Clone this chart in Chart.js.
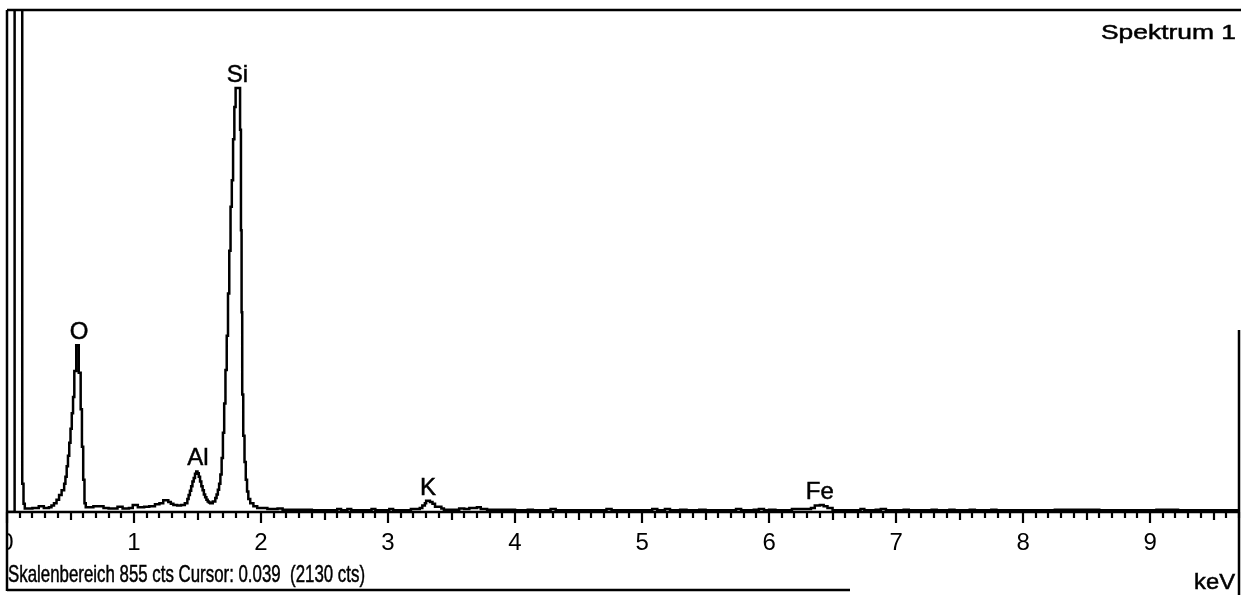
<!DOCTYPE html>
<html>
<head>
<meta charset="utf-8">
<title>Spektrum 1</title>
<script src="https://cdn.jsdelivr.net/npm/chart.js@4/dist/chart.umd.min.js"></script>
<style>
  html, body { margin: 0; padding: 0; background: #ffffff; }
  #wrap { width: 1241px; height: 595px; position: relative; }
  canvas { display: block; }
</style>
</head>
<body>
<div id="wrap"><canvas id="c" width="1241" height="595"></canvas></div>
<script>
// ---- Data (histogram bins: left edge in keV, counts) ----
const energyKeV = [
  0.00, 0.06, 0.12, 0.13, 0.14, 0.20, 0.25, 0.29, 0.33, 0.35,
  0.37, 0.39, 0.41, 0.43, 0.45, 0.46, 0.47, 0.48, 0.49, 0.50,
  0.51, 0.52, 0.53, 0.545, 0.565, 0.58, 0.59, 0.60, 0.61, 0.62,
  0.68, 0.76, 0.80, 0.87, 0.91, 0.96, 0.99, 1.03, 1.08, 1.12,
  1.165, 1.20, 1.23, 1.27, 1.29, 1.31, 1.34, 1.37, 1.40, 1.42,
  1.43, 1.44, 1.45, 1.46, 1.47, 1.48, 1.49, 1.50, 1.51, 1.52,
  1.53, 1.54, 1.55, 1.56, 1.57, 1.58, 1.59, 1.60, 1.62, 1.64,
  1.65, 1.66, 1.67, 1.68, 1.69, 1.70, 1.71, 1.72, 1.73, 1.74,
  1.75, 1.76, 1.77, 1.78, 1.79, 1.80, 1.835, 1.842, 1.847, 1.852,
  1.86, 1.87, 1.88, 1.89, 1.90, 1.915, 1.94, 1.97, 2.05, 2.13,
  2.17, 2.30, 2.40, 2.60, 2.63, 2.68, 2.71, 2.87, 2.90, 3.01,
  3.04, 3.18, 3.25, 3.27, 3.29, 3.30, 3.33, 3.35, 3.37, 3.42,
  3.44, 3.50, 3.56, 3.60, 3.64, 3.70, 3.73, 3.78, 3.90, 4.00,
  4.10, 4.14, 4.28, 4.32, 4.42, 4.55, 4.72, 4.76, 4.80, 4.95,
  5.08, 5.12, 5.18, 5.22, 5.30, 5.35, 5.45, 5.50, 5.74, 5.78,
  5.88, 5.92, 5.96, 6.00, 6.05, 6.18, 6.33, 6.36, 6.40, 6.43,
  6.46, 6.50, 6.72, 6.75, 6.84, 6.88, 6.92, 7.06, 7.10, 7.28,
  7.32, 7.42, 7.46, 7.58, 7.62, 7.75, 7.79, 8.00, 8.25, 8.60,
  9.05, 9.22, 9.70
];
const counts = [
  0, 2130, 48, 14, 6, 7, 10, 7, 8, 11,
  15, 21, 29, 37, 48, 60, 78, 96, 118, 142,
  168, 196, 240, 284, 237, 175, 111, 55, 15, 8,
  10, 7, 6, 9, 6, 7, 12, 8, 9, 10,
  13, 15, 20, 17, 14, 12, 11, 12, 15, 22,
  29, 36, 44, 52, 58, 65, 69, 66, 60, 52,
  44, 37, 30, 25, 21, 18, 16, 15, 18, 24,
  30, 38, 48, 64, 92, 135, 185, 242, 300, 372,
  445, 520, 565, 635, 690, 722, 651, 480, 340, 200,
  130, 85, 55, 35, 22, 15, 10, 7, 5, 6,
  4, 4, 3, 5, 3, 5, 3, 5, 3, 5,
  3, 5, 7, 11, 15, 19, 17, 14, 9, 6,
  4, 4, 6, 5, 7, 8, 5, 4, 4, 3,
  4, 3, 5, 3, 3, 3, 5, 3, 3, 3,
  5, 3, 5, 3, 4, 3, 4, 3, 5, 3,
  4, 5, 3, 4, 3, 5, 7, 11, 12, 10,
  7, 3, 5, 3, 4, 5, 3, 4, 3, 4,
  3, 4, 3, 4, 3, 4, 3, 3, 4, 3,
  4, 3, 3
];

// Element line labels and their energies (keV)
const peakNames = ['O', 'Al', 'Si', 'K', 'Fe'];
const peakKeV = [0.567, 1.504, 1.815, 3.315, 6.40];

// Axis
const xTickLabels = ['0', '1', '2', '3', '4', '5', '6', '7', '8', '9'];
const xMaxKeV = 9.7;
const fullScaleCts = 855;

// Texts
const titleText = 'Spektrum 1';
const statusText = 'Skalenbereich 855 cts Cursor: 0.039  (2130 cts)';
const unitText = 'keV';

const FONT = '"Liberation Sans", Arial, "DejaVu Sans", sans-serif';
const INK = '#000000';

function fitText(ctx, text, x, baseline, width, size) {
  ctx.save();
  ctx.font = size + 'px ' + FONT;
  ctx.textAlign = 'left';
  ctx.textBaseline = 'alphabetic';
  ctx.fillStyle = INK;
  ctx.strokeStyle = INK;
  ctx.lineWidth = 0.5;
  const w = ctx.measureText(text).width;
  ctx.translate(x, baseline);
  ctx.scale(width / w, 1);
  ctx.fillText(text, 0, 0);
  ctx.strokeText(text, 0, 0);
  ctx.restore();
}

const decorPlugin = {
  id: 'decor',
  beforeDraw(chart) {
    const ctx = chart.ctx;
    ctx.save();
    ctx.fillStyle = '#ffffff';
    ctx.fillRect(0, 0, chart.width, chart.height);
    ctx.restore();
  },
  afterDraw(chart) {
    const ctx = chart.ctx;
    const xs = chart.scales.x;
    const ys = chart.scales.y;
    const y0 = ys.getPixelForValue(0);
    ctx.save();
    ctx.strokeStyle = INK;
    ctx.lineWidth = 2.5;
    ctx.lineCap = 'butt';

    // x axis line
    ctx.beginPath();
    ctx.moveTo(xs.left, y0);
    ctx.lineTo(xs.right, y0);
    ctx.stroke();

    // tick marks (hanging below the axis)
    ctx.lineWidth = 2.2;
    xs.ticks.forEach(t => {
      const r = Math.round(t.value * 10);
      const len = r % 10 === 0 ? 11 : (r % 5 === 0 ? 8 : 6);
      const px = Math.round(xs.getPixelForValue(t.value));
      ctx.beginPath();
      ctx.moveTo(px, y0);
      ctx.lineTo(px, y0 + len);
      ctx.stroke();
    });

    // the '0' label is partly hidden behind the left frame in the original
    ctx.fillStyle = '#ffffff';
    ctx.fillRect(0, y0 + 13, xs.left, 40);

    // frame
    ctx.lineWidth = 2.5;
    const top = chart.chartArea.top;
    ctx.beginPath();
    ctx.moveTo(xs.left, top);
    ctx.lineTo(chart.width, top);
    ctx.moveTo(xs.left, top);
    ctx.lineTo(xs.left, 591);
    ctx.moveTo(xs.left, 590);
    ctx.lineTo(850, 590);
    ctx.moveTo(xs.right, 330);
    ctx.lineTo(xs.right, chart.height);
    ctx.stroke();

    // element labels above the peaks
    ctx.font = '24px ' + FONT;
    ctx.fillStyle = INK;
    ctx.strokeStyle = INK;
    ctx.lineWidth = 0.5;
    ctx.textAlign = 'center';
    ctx.textBaseline = 'alphabetic';
    peakNames.forEach((name, i) => {
      const k = peakKeV[i];
      let peak = 0;
      energyKeV.forEach((e, j) => {
        if (Math.abs(e - k) <= 0.06 && counts[j] <= fullScaleCts) peak = Math.max(peak, counts[j]);
      });
      const px = xs.getPixelForValue(k);
      const py = ys.getPixelForValue(peak) - 6;
      ctx.fillText(name, px, py);
      ctx.strokeText(name, px, py);
    });
    ctx.restore();

    // texts
    fitText(ctx, titleText, 1101, 39, 135, 20);
    fitText(ctx, statusText, 8, 582, 357, 24);
    fitText(ctx, unitText, 1194, 589, 41, 22);
  }
};

const points = energyKeV.map((e, i) => ({ x: e, y: counts[i] }));

new Chart(document.getElementById('c'), {
  type: 'line',
  data: {
    datasets: [{
      label: 'Spektrum 1',
      data: points,
      stepped: true,
      borderColor: INK,
      borderWidth: 2.5,
      pointRadius: 0,
      fill: false,
      tension: 0
    }]
  },
  options: {
    responsive: false,
    maintainAspectRatio: false,
    devicePixelRatio: 1,
    animation: false,
    events: [],
    layout: { padding: { left: 7, right: 2, top: 10, bottom: 0 } },
    plugins: {
      legend: { display: false },
      tooltip: { enabled: false },
      title: { display: false }
    },
    scales: {
      x: {
        type: 'linear',
        position: 'bottom',
        min: 0,
        max: xMaxKeV,
        grid: { display: false, drawTicks: false },
        border: { display: false },
        ticks: {
          stepSize: 0.1,
          autoSkip: false,
          maxRotation: 0,
          minRotation: 0,
          padding: 17,
          color: INK,
          font: { family: FONT, size: 24 },
          callback: (v) => {
            const r = Math.round(v * 10);
            return r % 10 === 0 ? (xTickLabels[r / 10] || '') : '';
          }
        },
        afterFit(scale) {
          scale.height = 83;
          scale.paddingLeft = 0;
          scale.paddingRight = 0;
        }
      },
      y: {
        type: 'linear',
        display: false,
        min: 0,
        max: fullScaleCts
      }
    }
  },
  plugins: [decorPlugin]
});
</script>
</body>
</html>
